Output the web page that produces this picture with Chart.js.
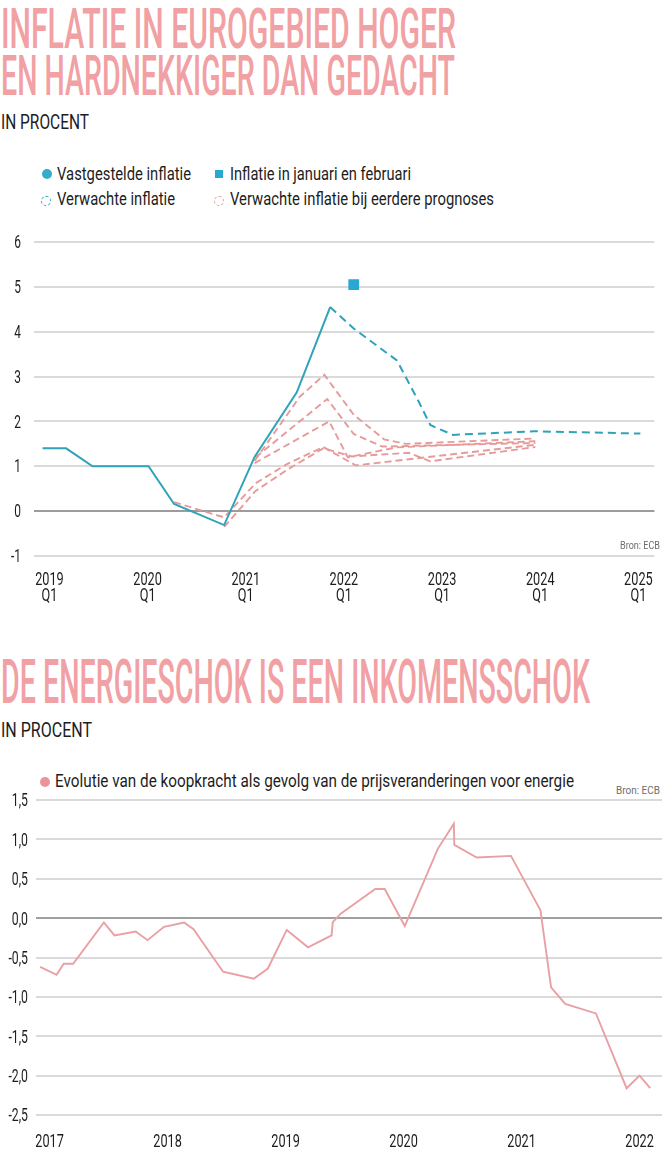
<!DOCTYPE html>
<html>
<head>
<meta charset="utf-8">
<script src="https://cdn.jsdelivr.net/npm/chart.js@4.4.1/dist/chart.umd.min.js"></script>
<style>
  html, body { margin: 0; padding: 0; background: #fff; }
  #page { position: relative; width: 662px; height: 1151px; overflow: hidden; font-family: Roboto, "Liberation Sans", sans-serif; }
  .txt { position: absolute; white-space: nowrap; line-height: 1; transform-origin: 0 0; }
  .title { color: #f1a0a3; font-weight: 500; }
  .sub, .leg { color: #1d1d1d; }
  .bron { color: #6e6e6e; }
  .mk { position: absolute; box-sizing: border-box; }
  .dot { border-radius: 50%; }
  .ring { border-radius: 50%; border-style: dashed; border-width: 1.6px; }
  .wrap { position: absolute; left: 0; }
</style>
</head>
<body>
<div id="page">
  <!-- grafiek 1 -->
  <div class="txt title" data-x="1" data-base="48" data-size="55" data-w="455">INFLATIE IN EUROGEBIED HOGER</div>
  <div class="txt title" data-x="1" data-base="95.5" data-size="55" data-w="454">EN HARDNEKKIGER DAN GEDACHT</div>
  <div class="txt sub" data-x="1" data-base="130" data-size="21" data-w="88">IN PROCENT</div>

  <div class="mk dot" style="left:41.5px;top:169px;width:10px;height:10px;background:#35adc8"></div>
  <div class="txt leg" data-x="57" data-base="180.5" data-size="18.7" data-w="134">Vastgestelde inflatie</div>
  <div class="mk" style="left:215px;top:170px;width:8px;height:8px;background:#27a9d1"></div>
  <div class="txt leg" data-x="230" data-base="180.5" data-size="18.7" data-w="181">Inflatie in januari en februari</div>
  <div class="mk ring" style="left:41px;top:195.5px;width:10px;height:10px;border-color:#2ea3b9"></div>
  <div class="txt leg" data-x="57" data-base="205.5" data-size="18.7" data-w="118">Verwachte inflatie</div>
  <div class="mk ring" style="left:214px;top:195.5px;width:10px;height:10px;border-color:#e79a9a"></div>
  <div class="txt leg" data-x="230" data-base="205.5" data-size="18.7" data-w="264">Verwachte inflatie bij eerdere prognoses</div>

  <div class="wrap" style="top:230px"><canvas id="chart1" width="662" height="390"></canvas></div>
  <div class="txt bron" data-x="620" data-base="550" data-size="11.5" data-w="40">Bron: ECB</div>

  <!-- grafiek 2 -->
  <div class="txt title" data-x="1" data-base="703" data-size="62" data-w="589">DE ENERGIESCHOK IS EEN INKOMENSSCHOK</div>
  <div class="txt sub" data-x="1" data-base="738" data-size="21" data-w="91">IN PROCENT</div>
  <div class="mk dot" style="left:39.5px;top:776.5px;width:10px;height:10px;background:#e8949a"></div>
  <div class="txt leg" data-x="55" data-base="788" data-size="18.7" data-w="519">Evolutie van de koopkracht als gevolg van de prijsveranderingen voor energie</div>
  <div class="txt bron" data-x="616" data-base="795" data-size="11.5" data-w="44">Bron: ECB</div>

  <div class="wrap" style="top:790px"><canvas id="chart2" width="662" height="361"></canvas></div>
</div>

<script>
// ---- grafiek 1: inflatie in de eurozone (x = tijd in jaren, y = procent)
var jaren1 = [2019, 2020, 2021, 2022, 2023, 2024, 2025]

var vastgesteldT = [2018.93, 2019.17, 2019.44, 2020.01, 2020.27, 2020.78, 2021.09, 2021.52, 2021.86]
var vastgesteld  = [1.4, 1.4, 1.0, 1.0, 0.16, -0.31, 1.21, 2.65, 4.55]

var verwachtT = [2021.86, 2022.10, 2022.54, 2022.76, 2022.88, 2023.11, 2023.94, 2025.02]
var verwacht  = [4.55, 4.07, 3.36, 2.45, 1.92, 1.70, 1.78, 1.73]

var janFebT = [2022.10]
var janFeb  = [5.05]

// eerdere prognoses
var prognose1T = [2021.09, 2021.55, 2021.80, 2022.10, 2022.41, 2022.63, 2023.95]
var prognose1  = [1.12, 2.55, 3.04, 2.15, 1.60, 1.50, 1.62]
var prognose2T = [2021.10, 2021.83, 2022.10, 2022.39, 2023.95]
var prognose2  = [1.20, 2.50, 1.72, 1.44, 1.52]
var prognose3T = [2021.09, 2021.85, 2022.04, 2022.53, 2023.95]
var prognose3  = [1.07, 2.00, 1.20, 1.42, 1.56]
var prognose4T = [2020.78, 2021.10, 2021.42, 2021.79, 2022.08, 2022.66, 2022.88, 2023.95]
var prognose4  = [-0.35, 0.45, 0.92, 1.40, 1.22, 1.30, 1.11, 1.43]
var prognose5T = [2020.27, 2020.78, 2021.10, 2021.42, 2021.79, 2022.12, 2023.95]
var prognose5  = [0.20, -0.14, 0.62, 1.05, 1.43, 1.02, 1.48]

// ---- grafiek 2: koopkracht (x = tijd in jaren, y = procent)
var jaren2 = [2017, 2018, 2019, 2020, 2021, 2022]
var koopkrachtT = [2016.92, 2017.06, 2017.12, 2017.20, 2017.46, 2017.55, 2017.73, 2017.83, 2017.97,
                   2018.14, 2018.22, 2018.47, 2018.73, 2018.85, 2019.01, 2019.19, 2019.39, 2019.40,
                   2019.47, 2019.76, 2019.84, 2020.01, 2020.29, 2020.426, 2020.43, 2020.62, 2020.91,
                   2021.16, 2021.25, 2021.37, 2021.63, 2021.89, 2022.00, 2022.09]
var koopkracht  = [-0.62, -0.72, -0.58, -0.58, -0.055, -0.22, -0.17, -0.28, -0.11,
                   -0.055, -0.14, -0.68, -0.77, -0.64, -0.15, -0.37, -0.22, -0.05,
                   0.06, 0.37, 0.37, -0.10, 0.88, 1.20, 0.93, 0.77, 0.79,
                   0.10, -0.88, -1.09, -1.21, -2.16, -2.00, -2.16]

// ------------------------------------------------------------------
// html-teksten plaatsen en smal maken
document.querySelectorAll('.txt').forEach(function (el) {
    var size = +el.dataset.size
    el.style.fontSize = size + 'px'
    el.style.left = el.dataset.x + 'px'
    el.style.top = (el.dataset.base - 0.842 * size) + 'px'
    var natural = el.getBoundingClientRect().width
    el.style.transform = 'scaleX(' + (el.dataset.w / natural) + ')'
})

function pts(xs, ys) {
    return xs.map(function (x, i) { return { x: x, y: ys[i] } })
}

function smalText(ctx, text, x, yMid, size, squeeze, align) {
    ctx.save()
    ctx.font = size + 'px Roboto, "Liberation Sans", sans-serif'
    ctx.textAlign = align
    ctx.textBaseline = 'alphabetic'
    ctx.translate(x, yMid + 0.355 * size)
    ctx.scale(squeeze, 1)
    ctx.fillText(text, 0, 0)
    ctx.restore()
}

// aslabels in smalle letter, op de posities van de schalen
var smalLabels = {
    id: 'smalLabels',
    afterDraw: function (chart, args, o) {
        var ctx = chart.ctx
        ctx.save()
        ctx.fillStyle = '#1d1d1d'
        var ys = chart.scales.y
        ys.ticks.forEach(function (t) {
            smalText(ctx, o.yFmt(t.value), o.yRight, ys.getPixelForValue(t.value), o.ySize, o.squeeze, 'right')
        })
        var xs = chart.scales.x
        xs.ticks.forEach(function (t) {
            o.xLines(t.value).forEach(function (line, i) {
                smalText(ctx, line, xs.getPixelForValue(t.value), o.xTop + i * o.lineGap, o.xSize, o.squeeze, 'center')
            })
        })
        ctx.restore()
    }
}

var blauw = '#2ea3b9'
var rood = '#e79a9a'

function prognoseSet(xs, ys) {
    return { data: pts(xs, ys), borderColor: rood, borderWidth: 1.9, borderDash: [7, 4], pointRadius: 0 }
}

var ctx1 = document.getElementById('chart1').getContext('2d')
var chart1 = new Chart(ctx1, {
    type: 'line',
    data: {
        datasets: [
            { data: pts(janFebT, janFeb), showLine: false, pointStyle: 'rect', pointRadius: 7.6, pointBackgroundColor: '#27a9d1', pointBorderWidth: 0 },
            { data: pts(vastgesteldT, vastgesteld), borderColor: blauw, borderWidth: 2, pointRadius: 0 },
            { data: pts(verwachtT, verwacht), borderColor: blauw, borderWidth: 2, borderDash: [8, 5], pointRadius: 0 },
            prognoseSet(prognose1T, prognose1),
            prognoseSet(prognose2T, prognose2),
            prognoseSet(prognose3T, prognose3),
            prognoseSet(prognose4T, prognose4),
            prognoseSet(prognose5T, prognose5)
        ]
    },
    options: {
        responsive: false,
        animation: false,
        layout: { padding: { left: 34, right: 0, top: 12, bottom: 64 } },
        plugins: {
            legend: { display: false },
            tooltip: { enabled: false },
            smalLabels: {
                yRight: 21, ySize: 17.5, xSize: 18.7, squeeze: 0.68,
                xTop: 348.3, lineGap: 16.5,
                yFmt: function (v) { return String(v) },
                xLines: function (v) { return [String(v), 'Q1'] }
            }
        },
        scales: {
            x: {
                type: 'linear', min: 2018.843, max: 2025.163,
                afterBuildTicks: function (s) { s.ticks = jaren1.map(function (v) { return { value: v } }) },
                grid: { display: false, drawTicks: false }, border: { display: false }, ticks: { display: false }
            },
            y: {
                min: -1, max: 6,
                ticks: { display: false, stepSize: 1 },
                grid: { drawTicks: false, lineWidth: 2, color: function (c) { return c.tick.value === 0 ? '#9c9c9c' : '#dadada' } },
                border: { display: false }
            }
        }
    },
    plugins: [smalLabels]
})

var ctx2 = document.getElementById('chart2').getContext('2d')
var chart2 = new Chart(ctx2, {
    type: 'line',
    data: {
        datasets: [
            { data: pts(koopkrachtT, koopkracht), borderColor: '#e9a0a4', borderWidth: 1.9, pointRadius: 0 }
        ]
    },
    options: {
        responsive: false,
        animation: false,
        layout: { padding: { left: 36, right: 0, top: 10, bottom: 36 } },
        plugins: {
            legend: { display: false },
            tooltip: { enabled: false },
            smalLabels: {
                yRight: 28, ySize: 18, xSize: 18.7, squeeze: 0.68,
                xTop: 350.5, lineGap: 0,
                yFmt: function (v) { return v.toFixed(1).replace('.', ',') },
                xLines: function (v) { return [String(v)] }
            }
        },
        scales: {
            x: {
                type: 'linear', min: 2016.885, max: 2022.19,
                afterBuildTicks: function (s) { s.ticks = jaren2.map(function (v) { return { value: v } }) },
                grid: { display: false, drawTicks: false }, border: { display: false }, ticks: { display: false }
            },
            y: {
                min: -2.5, max: 1.5,
                ticks: { display: false, stepSize: 0.5 },
                grid: { drawTicks: false, lineWidth: 2, color: function (c) { return c.tick.value === 0 ? '#a0a0a0' : '#dadada' } },
                border: { display: false }
            }
        }
    },
    plugins: [smalLabels]
})
</script>
</body>
</html>
